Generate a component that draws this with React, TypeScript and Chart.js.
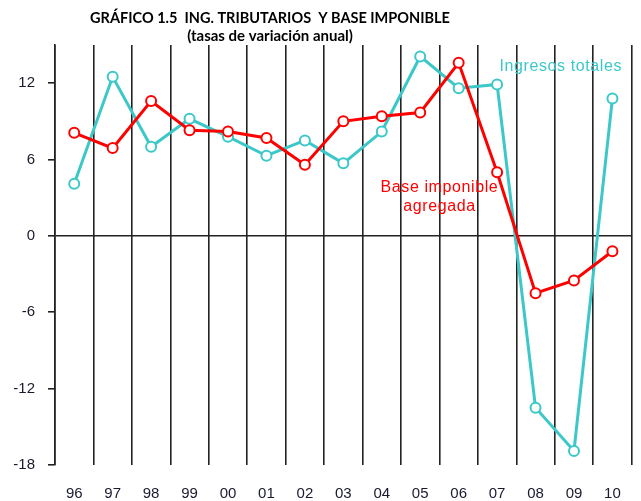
import React, { useEffect, useRef } from "react";
import { Chart, registerables } from "chart.js";

Chart.register(...registerables);

const years = ["96", "97", "98", "99", "00", "01", "02", "03", "04", "05", "06", "07", "08", "09", "10"];
const ingresosTotales = [4.1, 12.5, 7.0, 9.2, 7.8, 6.3, 7.5, 5.7, 8.2, 14.1, 11.6, 11.9, -13.5, -16.9, 10.8];
const baseImponible = [8.1, 6.9, 10.6, 8.3, 8.2, 7.7, 5.6, 9.0, 9.4, 9.7, 13.6, 5.0, -4.5, -3.5, -1.2];
const titleLines = ["GRÁFICO 1.5  ING. TRIBUTARIOS  Y BASE IMPONIBLE", "(tasas de variación anual)"];
const labelIngresos = "Ingresos totales";
const labelBase = ["Base imponible", "agregada"];

const CYAN = "#3cc8c8";
const RED = "#ff0000";

const textPlugin = {
  id: "texts",
  afterDraw(chart: any) {
    const ctx = chart.ctx;
    const xs = chart.scales.x;
    const ys = chart.scales.y;
    ctx.save();
    ctx.textAlign = "center";
    ctx.textBaseline = "middle";
    ctx.fillStyle = "#000";
    ctx.font = "bold 14.5px Lato, 'Open Sans', sans-serif";
    ctx.fillText(titleLines[0], 270, 18);
    ctx.font = "bold 15px Lato, 'Open Sans', sans-serif";
    ctx.fillText(titleLines[1], 270, 36);

    ctx.font = "16px 'Liberation Sans', Arial, sans-serif";
    (ctx as any).letterSpacing = "0.6px";
    ctx.fillStyle = CYAN;
    ctx.fillText(labelIngresos, (xs.getPixelForValue(11) + xs.getPixelForValue(14)) / 2 + 6, ys.getPixelForValue(13.3));
    ctx.fillStyle = RED;
    const bx = (xs.getPixelForValue(9) + xs.getPixelForValue(10)) / 2;
    ctx.fillText(labelBase[0], bx, ys.getPixelForValue(3.8));
    ctx.fillText(labelBase[1], bx, ys.getPixelForValue(2.3));
    ctx.restore();
  },
};

export default function App() {
  const ref = useRef<HTMLCanvasElement>(null);
  useEffect(() => {
    if (!ref.current) return;
    const ptStyle = {
      pointRadius: 5,
      pointHoverRadius: 5,
      pointBackgroundColor: "#ffffff",
      pointBorderWidth: 2,
      borderWidth: 3,
      tension: 0,
    };
    const chart = new Chart(ref.current, {
      type: "line",
      data: {
        labels: years,
        datasets: [
          {
            label: "Base imponible agregada",
            data: baseImponible,
            borderColor: RED,
            pointBorderColor: RED,
            ...ptStyle,
          },
          {
            label: "Ingresos totales",
            data: ingresosTotales,
            borderColor: CYAN,
            pointBorderColor: CYAN,
            ...ptStyle,
          },
        ],
      },
      options: {
        animation: false,
        responsive: false,
        layout: { padding: { top: 45, right: 4, left: 0, bottom: 0 } },
        plugins: {
          legend: { display: false },
          tooltip: { enabled: false },
          title: { display: false },
        },
        scales: {
          x: {
            offset: true,
            border: { display: false },
            grid: {
              offset: true,
              color: "#222",
              lineWidth: 1.6,
              drawTicks: false,
            },
            ticks: {
              color: "#1a1a2e",
              font: { family: "'Liberation Sans', Arial, sans-serif", size: 15 },
              padding: 20,
              maxRotation: 0,
              autoSkip: false,
            },
            afterFit(scale: any) {
              scale.height = 36;
            },
          },
          y: {
            min: -18,
            max: 15,
            border: { display: true, color: "#222", width: 1.6 },
            grid: {
              color: (c: any) => (c.tick && c.tick.value === 0 ? "#222" : "rgba(0,0,0,0)"),
              lineWidth: 1.6,
              tickColor: "#222",
              tickLength: 7,
              drawTicks: true,
            },
            ticks: {
              stepSize: 6,
              includeBounds: false,
              color: "#1a1a2e",
              font: { family: "'Liberation Sans', Arial, sans-serif", size: 15 },
              padding: 13,
            },
            afterFit(scale: any) {
              scale.width = 55;
            },
          },
        },
      },
      plugins: [textPlugin],
    });
    return () => chart.destroy();
  }, []);
  return (
    <div style={{ position: "fixed", left: 0, top: 0, width: 641, height: 501, background: "#fff" }}>
      <canvas ref={ref} width={641} height={501} style={{ width: 641, height: 501 }} />
    </div>
  );
}
